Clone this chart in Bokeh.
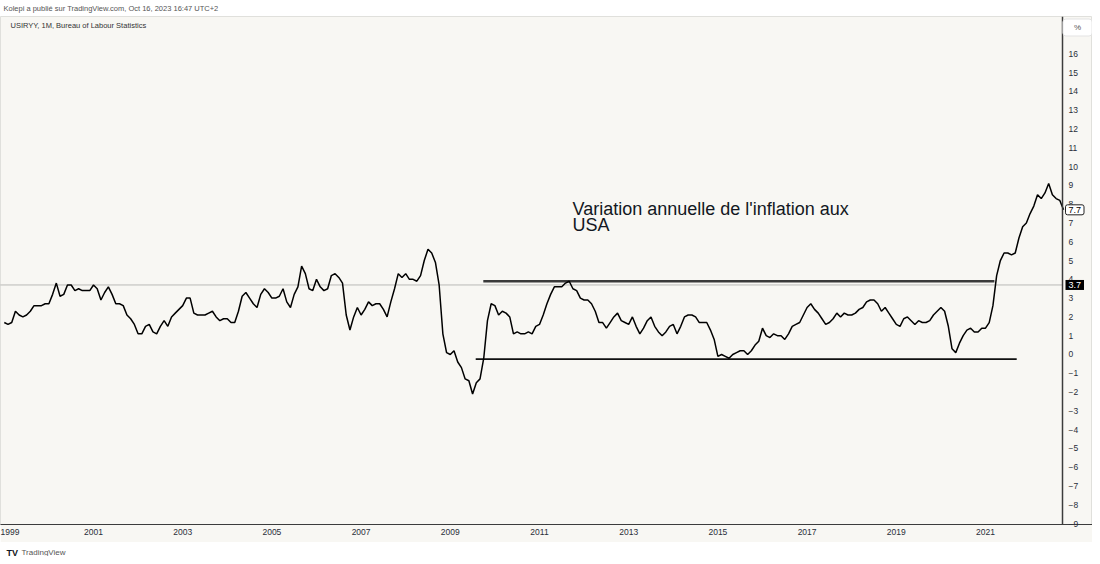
from bokeh.plotting import figure
from bokeh.models import ColumnDataSource, Range1d, FixedTicker, Label, Span
from bokeh.layouts import column
from bokeh.embed import file_html
from bokeh.resources import INLINE

# ---- data: US CPI year-over-year change (%), monthly, Jan..Dec ----
cpi_1999 = [1.7, 1.6, 1.7, 2.3, 2.1, 2.0, 2.1, 2.3, 2.6, 2.6, 2.6, 2.7]
cpi_2000 = [2.7, 3.2, 3.8, 3.1, 3.2, 3.7, 3.7, 3.4, 3.5, 3.4, 3.4, 3.4]
cpi_2001 = [3.7, 3.5, 2.9, 3.3, 3.6, 3.2, 2.7, 2.7, 2.6, 2.1, 1.9, 1.6]
cpi_2002 = [1.1, 1.1, 1.5, 1.6, 1.2, 1.1, 1.5, 1.8, 1.5, 2.0, 2.2, 2.4]
cpi_2003 = [2.6, 3.0, 3.0, 2.2, 2.1, 2.1, 2.1, 2.2, 2.3, 2.0, 1.8, 1.9]
cpi_2004 = [1.9, 1.7, 1.7, 2.3, 3.1, 3.3, 3.0, 2.7, 2.5, 3.2, 3.5, 3.3]
cpi_2005 = [3.0, 3.0, 3.1, 3.5, 2.8, 2.5, 3.2, 3.6, 4.7, 4.3, 3.5, 3.4]
cpi_2006 = [4.0, 3.6, 3.4, 3.5, 4.2, 4.3, 4.1, 3.8, 2.1, 1.3, 2.0, 2.5]
cpi_2007 = [2.1, 2.4, 2.8, 2.6, 2.7, 2.7, 2.4, 2.0, 2.8, 3.5, 4.3, 4.1]
cpi_2008 = [4.3, 4.0, 4.0, 3.9, 4.2, 5.0, 5.6, 5.4, 4.9, 3.7, 1.1, 0.1]
cpi_2009 = [0.0, 0.2, -0.4, -0.7, -1.3, -1.4, -2.1, -1.5, -1.3, -0.2, 1.8, 2.7]
cpi_2010 = [2.6, 2.1, 2.3, 2.2, 2.0, 1.1, 1.2, 1.1, 1.1, 1.2, 1.1, 1.5]
cpi_2011 = [1.6, 2.1, 2.7, 3.2, 3.6, 3.6, 3.6, 3.8, 3.9, 3.5, 3.4, 3.0]
cpi_2012 = [2.9, 2.9, 2.7, 2.3, 1.7, 1.7, 1.4, 1.7, 2.0, 2.2, 1.8, 1.7]
cpi_2013 = [1.6, 2.0, 1.5, 1.1, 1.4, 1.8, 2.0, 1.5, 1.2, 1.0, 1.2, 1.5]
cpi_2014 = [1.6, 1.1, 1.5, 2.0, 2.1, 2.1, 2.0, 1.7, 1.7, 1.7, 1.3, 0.8]
cpi_2015 = [-0.1, 0.0, -0.1, -0.2, 0.0, 0.1, 0.2, 0.2, 0.0, 0.2, 0.5, 0.7]
cpi_2016 = [1.4, 1.0, 0.9, 1.1, 1.0, 1.0, 0.8, 1.1, 1.5, 1.6, 1.7, 2.1]
cpi_2017 = [2.5, 2.7, 2.4, 2.2, 1.9, 1.6, 1.7, 1.9, 2.2, 2.0, 2.2, 2.1]
cpi_2018 = [2.1, 2.2, 2.4, 2.5, 2.8, 2.9, 2.9, 2.7, 2.3, 2.5, 2.2, 1.9]
cpi_2019 = [1.6, 1.5, 1.9, 2.0, 1.8, 1.6, 1.8, 1.7, 1.7, 1.8, 2.1, 2.3]
cpi_2020 = [2.5, 2.3, 1.5, 0.3, 0.1, 0.6, 1.0, 1.3, 1.4, 1.2, 1.2, 1.4]
cpi_2021 = [1.4, 1.7, 2.6, 4.2, 5.0, 5.4, 5.4, 5.3, 5.4, 6.2, 6.8, 7.0]
cpi_2022 = [7.5, 7.9, 8.5, 8.3, 8.6, 9.1, 8.5, 8.3, 8.2, 7.7]

yearly = {
    1999: cpi_1999, 2000: cpi_2000, 2001: cpi_2001, 2002: cpi_2002, 2003: cpi_2003,
    2004: cpi_2004, 2005: cpi_2005, 2006: cpi_2006, 2007: cpi_2007, 2008: cpi_2008,
    2009: cpi_2009, 2010: cpi_2010, 2011: cpi_2011, 2012: cpi_2012, 2013: cpi_2013,
    2014: cpi_2014, 2015: cpi_2015, 2016: cpi_2016, 2017: cpi_2017, 2018: cpi_2018,
    2019: cpi_2019, 2020: cpi_2020, 2021: cpi_2021, 2022: cpi_2022,
}

x_tick_years = [1999, 2001, 2003, 2005, 2007, 2009, 2011, 2013, 2015, 2017, 2019, 2021]
y_ticks = list(range(-9, 17))

last_value = 3.7          # latest published value (dotted line + black tag)
last_visible = 7.7        # last visible value tag

# user-drawn horizontal levels
level_values = [3.9, -0.25]
level_start = [2009.74, 2009.57]
level_end = [2021.20, 2021.70]

annot_lines = ["Variation annuelle de l'inflation aux", "USA"]
annot_x = 2011.74
annot_y = [7.75, 6.87]

# ---- build series (decimal years, first of each month) ----
t, v = [], []
for yr, vals in yearly.items():
    for m, val in enumerate(vals):
        t.append(yr + m / 12.0)
        v.append(val)
src = ColumnDataSource(dict(t=t, v=v))

BG = "#f8f7f3"
TXT = "#2a2e39"
FONT = "Liberation Sans"
W = 1092
FW, FH = 1092, 508           # frame size (px)
PX_PER_YEAR = 44.6
SCALE_X = 1062               # px position of the price-scale line

X0 = 1998.915
X1 = X0 + FW / PX_PER_YEAR
X_AXIS = X0 + SCALE_X / PX_PER_YEAR
Y0, Y1 = -9.05, 17.99

# ---------------- header strip ----------------
h = figure(width=W, height=16, output_backend="svg", toolbar_location=None,
           x_axis_type=None, y_axis_type=None, min_border=0,
           background_fill_color="white", border_fill_color="white")
h.outline_line_color = None
h.grid.visible = False
h.add_layout(Label(x=3, y=8, x_units="screen", y_units="screen",
                   text="Kolepi a publié sur TradingView.com, Oct 16, 2023 16:47 UTC+2",
                   text_font=FONT, text_font_size="7.5px", text_color="#555555",
                   text_baseline="middle", text_align="left"))

# ---------------- main chart ----------------
p = figure(frame_width=FW, frame_height=FH, x_range=Range1d(X0, X1), y_range=Range1d(Y0, Y1),
           output_backend="svg", toolbar_location=None, y_axis_location="right",
           min_border_left=0, min_border_right=0, min_border_top=0, min_border_bottom=18,
           background_fill_color=BG, border_fill_color=BG)
p.grid.visible = False
p.outline_line_color = "#e0e0dc"

p.xaxis.ticker = FixedTicker(ticks=x_tick_years)
p.xaxis.major_tick_out = 0
p.xaxis.major_tick_in = 0
p.xaxis.minor_tick_line_color = None
p.xaxis.axis_line_color = "#3c3c3c"
p.xaxis.axis_line_width = 1.2
p.xaxis.major_label_text_font = FONT
p.xaxis.major_label_text_font_size = "8.5px"
p.xaxis.major_label_text_color = TXT
p.xaxis.major_label_standoff = 4

# price scale: labels drawn inside the panel, to the right of the scale line
p.yaxis.ticker = FixedTicker(ticks=y_ticks)
p.yaxis.major_tick_out = 0
p.yaxis.major_tick_in = 0
p.yaxis.minor_tick_line_color = None
p.yaxis.axis_line_color = None
p.yaxis.major_label_text_font = FONT
p.yaxis.major_label_text_font_size = "8.5px"
p.yaxis.major_label_text_color = TXT
p.yaxis.major_label_standoff = -(FW - SCALE_X - 6)

# scale line
p.add_layout(Span(location=X_AXIS, dimension="height", line_color="#3c3c3c",
                  line_width=1.5))

# last value dotted line
p.segment(x0=[X0], y0=[last_value], x1=[X_AXIS], y1=[last_value],
          line_color="#7a7a7a", line_width=1, line_dash="1 1")

# drawn levels
p.segment(x0=level_start, y0=level_values, x1=level_end, y1=level_values,
          line_color=["#3a3a3a", "#111111"], line_width=[2.4, 1.6])

# main series
p.line("t", "v", source=src, line_color="#000000", line_width=1.5)

for txt, yy in zip(annot_lines, annot_y):
    p.add_layout(Label(x=annot_x, y=yy, text=txt, text_font=FONT,
                       text_font_size="18px", text_color="#131722",
                       text_baseline="alphabetic", text_align="left"))

p.add_layout(Label(x=10, y=FH - 9, x_units="screen", y_units="screen",
                   text="USIRYY, 1M, Bureau of Labour Statistics",
                   text_font=FONT, text_font_size="7.5px", text_color="#333333",
                   text_baseline="middle", text_align="left"))

# "%" box at top of price scale
p.add_layout(Label(x=SCALE_X + 15, y=FH - 11, x_units="screen", y_units="screen", text="%",
                   text_font=FONT, text_font_size="8px", text_color="#555555",
                   text_baseline="middle", text_align="center",
                   background_fill_color="white", border_line_color="#e3e3e3",
                   padding=(11, 4), border_radius=3))

# value tags on price scale
p.add_layout(Label(x=X_AXIS, y=last_value, x_offset=3, text=f"{last_value}",
                   text_font=FONT, text_font_size="9px", text_color="white",
                   text_baseline="middle", text_align="left",
                   background_fill_color="#000000", padding=(3, 2)))
p.add_layout(Label(x=X_AXIS, y=last_visible, x_offset=3, text=f"{last_visible}",
                   text_font=FONT, text_font_size="9px", text_color="#000000",
                   text_baseline="middle", text_align="left",
                   background_fill_color="white", border_line_color="#222222",
                   padding=(3, 2), border_radius=2))

# ---------------- footer strip ----------------
f = figure(width=W, height=14, output_backend="svg", toolbar_location=None,
           x_axis_type=None, y_axis_type=None, min_border=0,
           background_fill_color="white", border_fill_color="white")
f.outline_line_color = None
f.grid.visible = False
f.add_layout(Label(x=6, y=4, x_units="screen", y_units="screen", text="TV",
                   text_font=FONT, text_font_size="9px", text_font_style="bold",
                   text_color="#131722", text_baseline="middle", text_align="left"))
f.add_layout(Label(x=21, y=4, x_units="screen", y_units="screen", text="TradingView",
                   text_font=FONT, text_font_size="8px", text_color="#555555",
                   text_baseline="middle", text_align="left"))

layout = column(h, p, f, spacing=0)
open("out.html", "w").write(file_html(layout, INLINE))
